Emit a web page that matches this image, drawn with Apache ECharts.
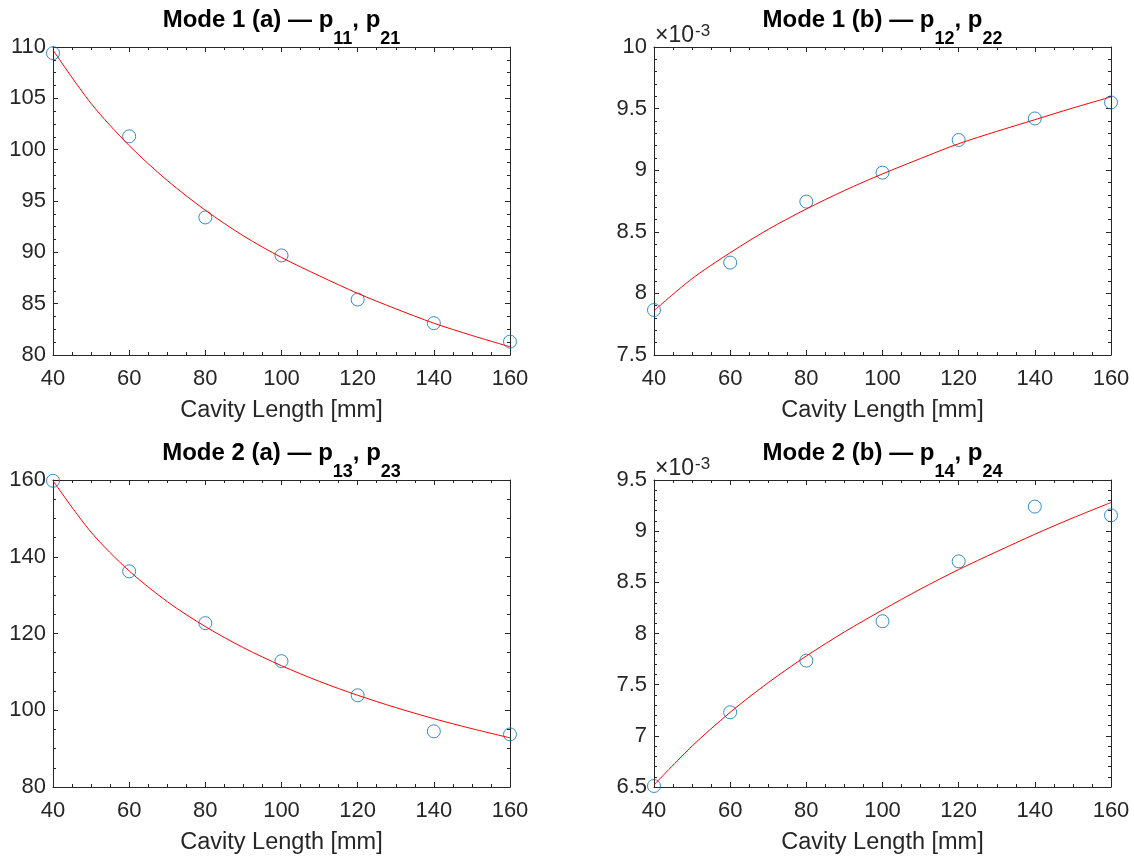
<!DOCTYPE html>
<html>
<head>
<meta charset="utf-8">
<script src="https://cdn.jsdelivr.net/npm/echarts@6/dist/echarts.min.js"></script>
<style>
html,body{margin:0;padding:0;background:#fff;}
#c{width:1134px;height:859px;}
</style>
</head>
<body>
<div id="c"></div>
<script>
// ---- data ----
const xPoints = [40, 60, 80, 100, 120, 140, 160];
const xFit = [40, 50, 60, 70, 80, 90, 100, 110, 120, 130, 140, 150, 160];
const xTicks = [40, 60, 80, 100, 120, 140, 160];

// Mode 1 (a) — p11, p21
const m1aPoints = [109.4, 101.3, 93.4, 89.7, 85.4, 83.1, 81.3];
const m1aFit = [109.7, 104.5, 100.4, 97.0, 94.1, 91.6, 89.5, 87.7, 86.0, 84.5, 83.1, 81.9, 80.8];
// Mode 1 (b) — p12, p22  (values in units of 1e-3)
const m1bPoints = [7.865, 8.25, 8.745, 8.98, 9.245, 9.42, 9.55];
const m1bFit = [7.86, 8.12, 8.33, 8.52, 8.685, 8.835, 8.97, 9.095, 9.215, 9.315, 9.41, 9.505, 9.595];
// Mode 2 (a) — p13, p23
const m2aPoints = [159.8, 136.2, 122.7, 112.8, 103.9, 94.5, 93.7];
const m2aFit = [159.8, 146.4, 136.3, 128.3, 121.8, 116.3, 111.6, 107.5, 103.9, 100.7, 97.8, 95.2, 92.8];
// Mode 2 (b) — p14, p24  (values in units of 1e-3)
const m2bPoints = [6.51, 7.23, 7.735, 8.12, 8.705, 9.24, 9.155];
const m2bFit = [6.52, 6.90, 7.23, 7.52, 7.78, 8.015, 8.23, 8.435, 8.625, 8.80, 8.97, 9.13, 9.28];

const yRanges = [
  {min: 80, max: 110, interval: 5, minor: 4},
  {min: 7.5, max: 10, interval: 0.5, minor: 5},
  {min: 80, max: 160, interval: 20, minor: 4},
  {min: 6.5, max: 9.5, interval: 0.5, minor: 5}
];
const titles = [
  ['Mode 1 (a) — p', '11', ', p', '21'],
  ['Mode 1 (b) — p', '12', ', p', '22'],
  ['Mode 2 (a) — p', '13', ', p', '23'],
  ['Mode 2 (b) — p', '14', ', p', '24']
];
const xName = 'Cavity Length [mm]';
const scaleLabel = ['×10', '-3'];

// ---- layout ----
const grids = [
  {left: 53, top: 47, width: 457, height: 308},
  {left: 654, top: 47, width: 457, height: 308},
  {left: 53, top: 480, width: 457, height: 307},
  {left: 654, top: 480, width: 457, height: 307}
];
const FONT = '"Liberation Sans", Arial, Helvetica, sans-serif';
const AX = '#262626';

const pointsData = [m1aPoints, m1bPoints, m2aPoints, m2bPoints];
const fitData = [m1aFit, m1bFit, m2aFit, m2bFit];

const xAxes = [], yAxes = [], series = [], graphics = [];

grids.forEach((g, i) => {
  const common = {
    gridIndex: i,
    type: 'value',
    axisLine: {show: true, onZero: false, lineStyle: {color: AX, width: 1}},
    axisTick: {show: true, inside: true, length: 5, lineStyle: {color: AX, width: 1}},
    minorTick: {show: true, length: 3, lineStyle: {color: AX, width: 1}},
    splitLine: {show: false},
    minorSplitLine: {show: false}
  };
  xAxes.push(Object.assign({}, common, {
    position: 'bottom', min: 40, max: 160, interval: 20,
    minorTick: Object.assign({}, common.minorTick, {splitNumber: 4}),
    axisLabel: {show: true, color: AX, fontSize: 22, fontFamily: FONT, margin: 13},
    name: xName, nameLocation: 'middle', nameGap: 44,
    nameTextStyle: {color: AX, fontSize: 23.5, fontFamily: FONT}
  }));
  xAxes.push(Object.assign({}, common, {
    position: 'top', min: 40, max: 160, interval: 20,
    minorTick: Object.assign({}, common.minorTick, {splitNumber: 4}),
    axisLabel: {show: false}
  }));
  const r = yRanges[i];
  yAxes.push(Object.assign({}, common, {
    position: 'left', min: r.min, max: r.max, interval: r.interval,
    minorTick: Object.assign({}, common.minorTick, {splitNumber: r.minor}),
    axisLabel: {show: true, color: AX, fontSize: 22, fontFamily: FONT, margin: 7}
  }));
  yAxes.push(Object.assign({}, common, {
    position: 'right', min: r.min, max: r.max, interval: r.interval,
    minorTick: Object.assign({}, common.minorTick, {splitNumber: r.minor}),
    axisLabel: {show: false}
  }));

  series.push({
    type: 'scatter',
    xAxisIndex: i * 2, yAxisIndex: i * 2,
    data: xPoints.map((x, k) => [x, pointsData[i][k]]),
    symbol: 'circle', symbolSize: 13,
    itemStyle: {color: 'rgba(0,0,0,0)', borderColor: '#0072BD', borderWidth: 1},
    z: 2, silent: true
  });
  series.push({
    type: 'line',
    xAxisIndex: i * 2, yAxisIndex: i * 2,
    data: xFit.map((x, k) => [x, fitData[i][k]]),
    showSymbol: false, smooth: 0.3,
    lineStyle: {color: '#FF0000', width: 1},
    z: 3, silent: true
  });

  const t = titles[i];
  graphics.push({
    type: 'text',
    x: g.left + g.width / 2,
    y: g.top - 19,
    style: {
      text: '{m|' + t[0] + '}{s|' + t[1] + '}{m|' + t[2] + '}{s|' + t[3] + '}',
      align: 'center', verticalAlign: 'middle',
      rich: {
        m: {fontSize: 24, fontWeight: 'bold', fontFamily: FONT, fill: '#000', lineHeight: 24, verticalAlign: 'top'},
        s: {fontSize: 18, fontWeight: 'bold', fontFamily: FONT, fill: '#000', lineHeight: 40, verticalAlign: 'bottom'}
      }
    }
  });
  if (i === 1 || i === 3) {
    graphics.push({
      type: 'text',
      x: g.left + 1,
      y: g.top - 12,
      style: {
        text: '{a|' + scaleLabel[0] + '}{b|' + scaleLabel[1] + '}',
        align: 'left', verticalAlign: 'middle',
        rich: {
          a: {fontSize: 23, fontFamily: FONT, fill: AX, lineHeight: 24, verticalAlign: 'bottom'},
          b: {fontSize: 17, fontFamily: FONT, fill: AX, lineHeight: 17, verticalAlign: 'top', padding: [0, 0, 10, 1]}
        }
      }
    });
  }
});

const chart = echarts.init(document.getElementById('c'), null, {renderer: 'canvas'});
chart.setOption({
  backgroundColor: '#fff',
  animation: false,
  grid: grids.map(g => Object.assign({containLabel: false}, g)),
  xAxis: xAxes,
  yAxis: yAxes,
  series: series,
  graphic: graphics
});
</script>
</body>
</html>
